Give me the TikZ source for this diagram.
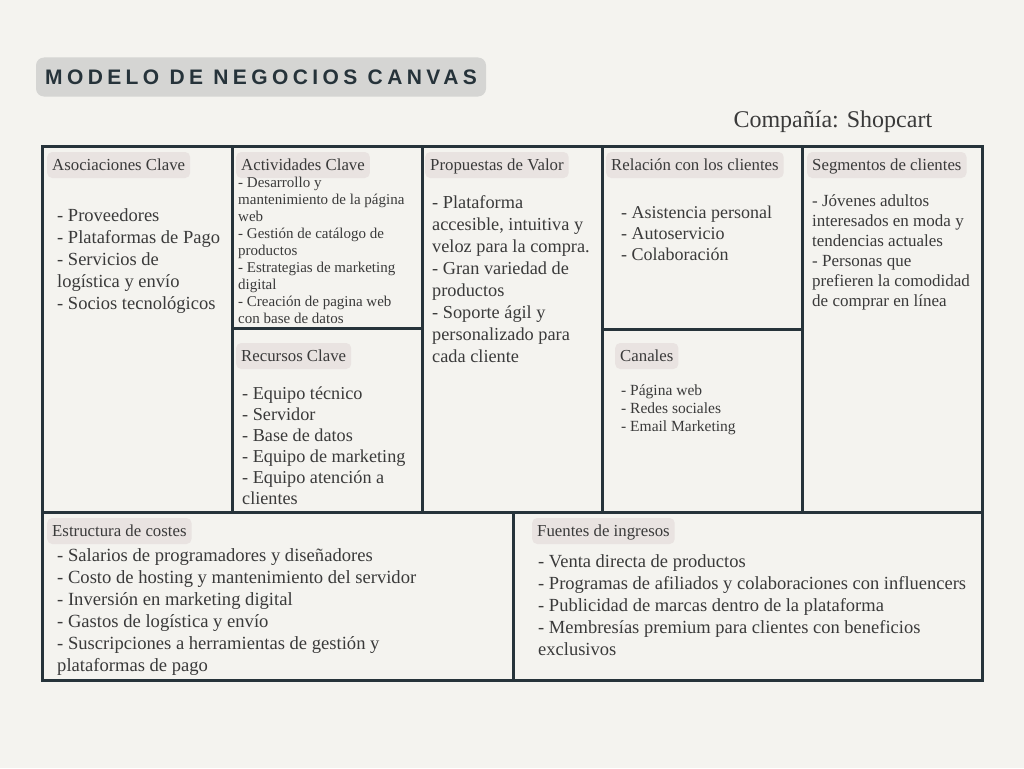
\documentclass[tikz,border=0pt]{standalone}
\usepackage{fontspec}
\setmainfont{Liberation Serif}
\newfontfamily\titlefont[LetterSpace=21]{Liberation Sans}
\usetikzlibrary{positioning}
\definecolor{paper}{HTML}{F4F3EF}
\definecolor{framecol}{HTML}{26333A}
\definecolor{titlegrey}{HTML}{D5D5D3}
\definecolor{tagfill}{HTML}{E9E3E1}
\definecolor{ink}{HTML}{3A3A3A}
\tikzset{%
  every tag/.style={
    fill=tagfill,
    rounded corners=5pt,
    anchor=west,
    text height=12.5pt,
    text depth=1.5pt,
    inner ysep=6pt,
    inner xsep=5pt,
    text=ink,
    font=\fontsize{16.8}{18}\selectfont
  },
  cell text/.style={
    anchor=north west,
    align=left,
    inner sep=0pt,
    text=ink
  },
  grid line/.style={
    draw=framecol,
    line width=3pt
  },
}

\begin{document}
\begin{tikzpicture}[x=1pt, y=-1pt]
        % Background
        \fill [paper] (0,0) rectangle (1024,768);
        \useasboundingbox (0,0) rectangle (1024,768);

        %%%%%%%%%%%%%%%%%%%%%%%%%%%%%%%%%%%%%%%%%%%%
        % Title
        %%%%%%%%%%%%%%%%%%%%%%%%%%%%%%%%%%%%%%%%%%%%
        \node [fill=titlegrey, rounded corners=8pt, minimum width=450pt,
               minimum height=39pt, text=framecol,
               font=\titlefont\bfseries\fontsize{21}{20}\selectfont]
            (title) at (261,77) {MODELO DE NEGOCIOS CANVAS};
        \node [anchor=west, text=ink, font=\fontsize{24}{26}\selectfont]
            (company) at (730,122) {Compañía: Shopcart};

        %%%%%%%%%%%%%%%%%%%%%%%%%%%%%%%%%%%%%%%%%%%%
        % Grid
        %%%%%%%%%%%%%%%%%%%%%%%%%%%%%%%%%%%%%%%%%%%%
        \draw [grid line] (42,146) rectangle (982,680);
        \draw [grid line] (42,512) -- (982,512);
        \foreach \x in {232,422,602,802}
            \draw [grid line] (\x,146) -- (\x,512);
        \draw [grid line] (232,328) -- (422,328);
        \draw [grid line] (602,329) -- (802,329);
        \draw [grid line] (513,512) -- (513,680);

        %%%%%%%%%%%%%%%%%%%%%%%%%%%%%%%%%%%%%%%%%%%%
        % Block headers
        %%%%%%%%%%%%%%%%%%%%%%%%%%%%%%%%%%%%%%%%%%%%
        \foreach \n/\x/\y/\l in {aso/47/165/Asociaciones Clave,
                                 act/236/165/Actividades Clave,
                                 pro/425/165/Propuestas de Valor,
                                 rel/606/165/Relación con los clientes,
                                 seg/807/165/Segmentos de clientes,
                                 rec/236/356/Recursos Clave,
                                 can/615/356/Canales,
                                 cos/47/531/Estructura de costes,
                                 fue/532/531/Fuentes de ingresos}
            \node [every tag] (tag-\n) at (\x,\y) {\l};

        %%%%%%%%%%%%%%%%%%%%%%%%%%%%%%%%%%%%%%%%%%%%
        % Block contents
        %%%%%%%%%%%%%%%%%%%%%%%%%%%%%%%%%%%%%%%%%%%%
        \node [cell text, font=\fontsize{18.5}{22}\selectfont] (text-aso) at (57,208)
            {- Proveedores\\- Plataformas de Pago\\- Servicios de\\logística y envío\\- Socios tecnológicos};

        \node [cell text, font=\fontsize{15}{17}\selectfont] (text-act) at (238,177)
            {- Desarrollo y\\mantenimiento de la página\\web\\- Gestión de catálogo de\\productos\\
             - Estrategias de marketing\\digital\\- Creación de pagina web\\con base de datos};

        \node [cell text, font=\fontsize{18.3}{22}\selectfont] (text-pro) at (432,195)
            {- Plataforma\\accesible, intuitiva y\\veloz para la compra.\\- Gran variedad de\\productos\\
             - Soporte ágil y\\personalizado para\\cada cliente};

        \node [cell text, font=\fontsize{18}{21}\selectfont] (text-rel) at (621,206)
            {- Asistencia personal\\- Autoservicio\\- Colaboración};

        \node [cell text, font=\fontsize{17}{20}\selectfont] (text-seg) at (812,194.5)
            {- Jóvenes adultos\\interesados en moda y\\tendencias actuales\\- Personas que\\
             prefieren la comodidad\\de comprar en línea};

        \node [cell text, font=\fontsize{18.2}{21}\selectfont] (text-rec) at (242,387)
            {- Equipo técnico\\- Servidor\\- Base de datos\\- Equipo de marketing\\- Equipo atención a\\clientes};

        \node [cell text, font=\fontsize{15.5}{18}\selectfont] (text-can) at (621,385)
            {- Página web\\- Redes sociales\\- Email Marketing};

        \node [cell text, font=\fontsize{18.6}{22}\selectfont] (text-cos) at (57,548)
            {- Salarios de programadores y diseñadores\\- Costo de hosting y mantenimiento del servidor\\
             - Inversión en marketing digital\\- Gastos de logística y envío\\
             - Suscripciones a herramientas de gestión y\\plataformas de pago};

        \node [cell text, font=\fontsize{18.5}{22}\selectfont] (text-fue) at (538,554)
            {- Venta directa de productos\\- Programas de afiliados y colaboraciones con influencers\\
             - Publicidad de marcas dentro de la plataforma\\
             - Membresías premium para clientes con beneficios\\exclusivos};
\end{tikzpicture}
\end{document}
